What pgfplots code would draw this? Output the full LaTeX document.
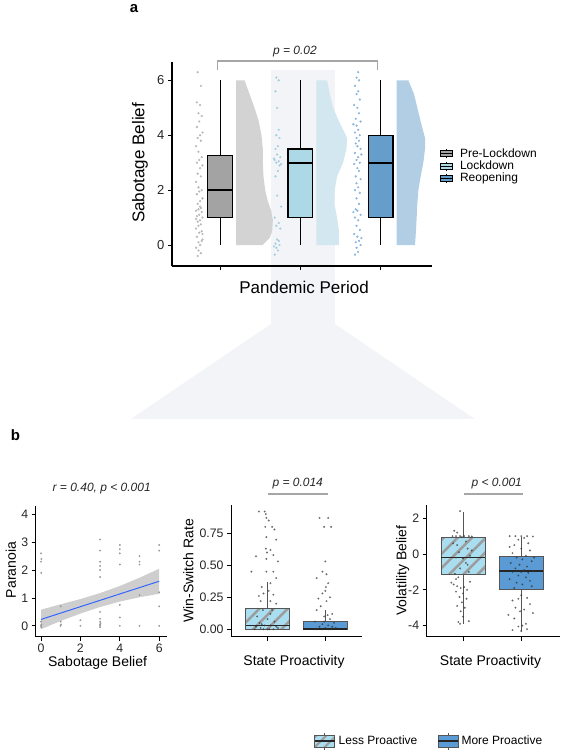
\documentclass[border=0pt]{standalone}
\usepackage{pgfplots}
\pgfplotsset{compat=1.18}
\usepgfplotslibrary{statistics}
\usetikzlibrary{patterns.meta}
\usepackage{fontspec}
\setmainfont{Liberation Sans}
\definecolor{bgshade}{HTML}{F3F4F7}
\definecolor{boxgray}{HTML}{A3A3A3}
\definecolor{boxlblue}{HTML}{ADD8E6}
\definecolor{boxblue}{HTML}{659DCB}
\definecolor{dengray}{HTML}{D3D3D3}
\definecolor{denlblue}{HTML}{D2E7EF}
\definecolor{denblue}{HTML}{B1CEE5}
\definecolor{ptgray}{HTML}{B8B8B8}
\definecolor{ptlblue}{HTML}{A6CFE0}
\definecolor{ptblue}{HTML}{8CB5DA}
\definecolor{lessp}{HTML}{A9DDF0}
\definecolor{morep}{HTML}{5B9BD5}
\definecolor{stripe}{HTML}{9C9C9C}
\definecolor{ggblue}{HTML}{3366FF}
\definecolor{bracket}{HTML}{A6A6A6}
\definecolor{tickc}{HTML}{262626}
\definecolor{bandc}{HTML}{C6C6C6}
\definecolor{outl}{HTML}{555555}

\newcommand\fs[1]{\fontsize{#1}{#1}\selectfont}

\pgfplotsset{
  common/.style={
    scale only axis,
    axis lines=left,
    axis line style={-, line width=1pt, black},
    tick align=outside,
    major tick length=4pt,
    tick style={line width=0.8pt, black},
    /pgf/number format/assume math mode=true,
    ticklabel style={font=\fs{12.3}, text=tickc},
    label style={font=\fs{14}},
    clip=false,
    boxplot/draw direction=y,
  },
  pts/.style={forget plot, only marks, mark=*, mark size=0.9pt, color=#1},
}

\begin{document}
\begin{tikzpicture}[x=1pt,y=1pt]
\useasboundingbox (0,0) rectangle (564,755);
% background highlight of the Lockdown period and zoom trapezoid
\fill[bgshade] (271,685) rectangle (335,431);
\fill[bgshade] (271,431) -- (335,431) -- (474.7,336) -- (130.7,336) -- cycle;

% ---------------- panel a ----------------
\begin{axis}[common, at={(172pt,489pt)}, anchor=south west, width=260pt, height=204pt,
  xmin=0.40, xmax=3.64, ymin=-0.765, ymax=6.67,
  xtick={1,2,3}, xticklabels={,,}, ytick={0,2,4,6},
  ticklabel style={font=\fs{13}},
  axis line style={line width=1.3pt},
  xlabel={Pandemic Period}, ylabel={Sabotage Belief},
  label style={font=\fs{17}},
  xlabel style={at={(axis description cs:0.508,-0.103)}, anchor=center},
  ylabel style={at={(axis description cs:-0.123,0.505)}, anchor=center},
  legend cell align=left,
  legend style={at={(axis description cs:1.03,0.49)}, anchor=west, draw=none, fill=none,
    font=\fs{12}, row sep=-2pt, inner sep=0pt, /tikz/every odd column/.append style={column sep=5pt}},
]
\addlegendimage{legend image code/.code={
  \draw[line width=0.8pt] (6pt,-4.5pt)--(6pt,4.5pt);
  \filldraw[fill=boxgray, draw=black, line width=0.8pt] (0pt,-3pt) rectangle (12pt,3pt);
  \draw[line width=1pt] (0pt,0pt)--(12pt,0pt);}}
\addlegendentry{Pre-Lockdown}
\addlegendimage{legend image code/.code={
  \draw[line width=0.8pt] (6pt,-4.5pt)--(6pt,4.5pt);
  \filldraw[fill=boxlblue, draw=black, line width=0.8pt] (0pt,-3pt) rectangle (12pt,3pt);
  \draw[line width=1pt] (0pt,0pt)--(12pt,0pt);}}
\addlegendentry{Lockdown}
\addlegendimage{legend image code/.code={
  \draw[line width=0.8pt] (6pt,-4.5pt)--(6pt,4.5pt);
  \filldraw[fill=boxblue, draw=black, line width=0.8pt] (0pt,-3pt) rectangle (12pt,3pt);
  \draw[line width=1pt] (0pt,0pt)--(12pt,0pt);}}
\addlegendentry{Reopening}

% jittered raw points
\addplot[pts=ptgray] coordinates {(0.72,-0.4)(0.76,-0.3)(0.70,-0.1)(0.75,0.0)(0.73,0.1)(0.78,0.2)(0.71,0.3)(0.74,0.45)(0.77,0.5)(0.70,0.6)(0.73,0.7)(0.76,0.75)(0.72,0.85)(0.75,0.9)(0.78,1.0)(0.71,1.05)(0.74,1.1)(0.77,1.2)(0.70,1.25)(0.73,1.3)(0.76,1.35)(0.72,1.5)(0.75,1.6)(0.78,1.7)(0.71,1.85)(0.74,1.95)(0.77,2.0)(0.73,2.1)(0.70,2.3)(0.76,2.5)(0.72,2.6)(0.75,2.8)(0.78,2.9)(0.71,3.0)(0.74,3.1)(0.77,3.2)(0.73,3.4)(0.70,3.6)(0.76,3.8)(0.72,3.9)(0.75,4.0)(0.78,4.1)(0.71,4.3)(0.74,4.5)(0.77,4.7)(0.73,4.8)(0.75,5.1)(0.71,5.2)(0.76,5.8)(0.72,6.3)(0.78,0.4)(0.70,0.95)(0.77,0.15)(0.73,-0.2)(0.75,1.4)};
\addplot[pts=ptlblue] coordinates {(1.68,-0.35)(1.72,-0.2)(1.70,-0.1)(1.74,0.0)(1.69,0.05)(1.73,0.15)(1.71,0.2)(1.67,-0.05)(1.75,0.6)(1.70,0.7)(1.73,0.8)(1.68,1.0)(1.76,1.4)(1.71,1.8)(1.69,2.5)(1.72,2.7)(1.74,2.9)(1.70,3.0)(1.73,3.05)(1.68,3.1)(1.75,3.2)(1.71,3.3)(1.69,3.5)(1.72,3.6)(1.74,3.9)(1.70,4.0)(1.73,4.2)(1.71,5.0)(1.69,5.6)(1.73,6.0)(1.70,6.1)(1.76,2.95)(1.67,3.15)};
\addplot[pts=ptblue] coordinates {(2.68,-0.35)(2.72,-0.25)(2.70,-0.1)(2.75,0.0)(2.69,0.1)(2.73,0.15)(2.71,0.3)(2.67,0.4)(2.74,0.55)(2.70,0.7)(2.72,0.9)(2.68,1.0)(2.75,1.1)(2.71,1.25)(2.69,1.3)(2.73,1.5)(2.70,1.7)(2.74,1.9)(2.68,2.0)(2.72,2.1)(2.70,2.25)(2.75,2.4)(2.69,2.5)(2.73,2.7)(2.71,2.8)(2.67,2.95)(2.74,3.0)(2.70,3.1)(2.72,3.2)(2.68,3.35)(2.75,3.5)(2.71,3.6)(2.69,3.7)(2.73,3.8)(2.70,3.9)(2.74,4.0)(2.68,4.1)(2.72,4.2)(2.70,4.35)(2.75,4.5)(2.69,4.6)(2.73,4.8)(2.71,5.0)(2.67,5.1)(2.74,5.3)(2.70,5.5)(2.72,5.6)(2.68,5.8)(2.73,6.0)(2.70,6.1)(2.72,6.3)(2.76,0.25)(2.66,1.2)(2.76,3.3)(2.66,4.4)};

% half densities
\addplot[forget plot, fill=dengray, draw=none] coordinates {(1.2,0)(1.53,0)(1.615,0.25)(1.648,0.5)(1.657,0.9)(1.636,1.25)(1.594,1.6)(1.561,2)(1.54,2.5)(1.532,3)(1.532,3.5)(1.515,4)(1.482,4.5)(1.428,5)(1.366,5.5)(1.304,6)(1.2,6)} -- cycle;
\addplot[forget plot, fill=denlblue, draw=none] coordinates {(2.2,0)(2.478,0)(2.482,0.5)(2.457,1)(2.424,1.5)(2.428,2)(2.457,2.5)(2.532,3)(2.574,3.5)(2.582,3.9)(2.482,4.5)(2.408,5)(2.366,5.5)(2.333,6)(2.2,6)} -- cycle;
\addplot[forget plot, fill=denblue, draw=none] coordinates {(3.2,0)(3.428,0)(3.44,0.5)(3.449,1)(3.457,1.5)(3.47,2)(3.499,2.5)(3.532,3)(3.553,3.5)(3.553,3.9)(3.499,4.5)(3.457,5)(3.416,5.5)(3.345,6)(3.2,6)} -- cycle;

% boxplots
\addplot[forget plot, draw=black, line width=1.2pt,
  boxplot prepared={draw position=1, lower whisker=0, lower quartile=1, median=2, upper quartile=3.25, upper whisker=6, box extend=0.31, whisker extend=0},
  boxplot/every box/.style={fill=boxgray}, boxplot/every median/.style={line width=1.8pt}] coordinates {};
\addplot[forget plot, draw=black, line width=1.2pt,
  boxplot prepared={draw position=2, lower whisker=0, lower quartile=1, median=3, upper quartile=3.5, upper whisker=6, box extend=0.31, whisker extend=0},
  boxplot/every box/.style={fill=boxlblue}, boxplot/every median/.style={line width=1.8pt}] coordinates {};
\addplot[forget plot, draw=black, line width=1.2pt,
  boxplot prepared={draw position=3, lower whisker=0, lower quartile=1, median=3, upper quartile=4, upper whisker=6, box extend=0.31, whisker extend=0},
  boxplot/every box/.style={fill=boxblue}, boxplot/every median/.style={line width=1.8pt}] coordinates {};
\end{axis}

% ---------------- panel b: scatter ----------------
\begin{axis}[common, at={(35.7pt,118.3pt)}, anchor=south west, width=131pt, height=131pt,
  xmin=-0.27, xmax=6.38, ymin=-0.39, ymax=4.31,
  xtick={0,2,4,6}, ytick={0,1,2,3,4},
  xlabel={Sabotage Belief}, ylabel={Paranoia},
  xlabel style={at={(axis description cs:0.472,-0.198)}, anchor=center},
  ylabel style={at={(axis description cs:-0.19,0.509)}, anchor=center},
]
\addplot[pts=gray!80, mark size=0.7pt] coordinates {(0,2.6)(0.02,2.4)(0,2.3)(0.01,1.9)(0,0.15)(0.02,0.05)(0,0)(0.01,-0.05)(1,0.7)(1,0.15)(1.02,0.05)(0.99,0.0)(2,0.2)(2,0.0)(3,3.1)(3,2.7)(3,2.3)(3,2.15)(3,2.0)(3,1.75)(3,0.5)(3,0.25)(3,0.15)(3,0.05)(3,0.0)(3,-0.05)(3.02,0.1)(4,2.9)(4,2.75)(4,2.6)(4,2.2)(4,0.75)(4,0.3)(4,0.0)(5,2.5)(5,2.3)(5,2.2)(5,1.1)(5,0.0)(6,2.9)(6,2.7)(6,1.2)(6,0.7)(6,0.0)};
\addplot[forget plot, fill=bandc, fill opacity=0.85, draw=none] coordinates {(0,0.58)(1,0.775)(2,0.96)(3,1.175)(4,1.43)(5,1.725)(6,2.05)(6,1.15)(5,1.025)(4,0.87)(3,0.675)(2,0.44)(1,0.175)(0,-0.12)} -- cycle;
\addplot[forget plot, ggblue, line width=1pt] coordinates {(0,0.23)(6,1.6)};
\end{axis}

% ---------------- panel b: win-switch ----------------
\begin{axis}[common, at={(231pt,118.3pt)}, anchor=south west, width=130.7pt, height=131.7pt,
  xmin=0.367, xmax=2.63, ymin=-0.058, ymax=0.971,
  xtick={1,2}, xticklabels={,}, ytick={0,0.25,0.5,0.75}, yticklabels={0.00,0.25,0.50,0.75},
  xlabel={State Proactivity}, ylabel={Win-Switch Rate},
  xlabel style={at={(axis description cs:0.482,-0.19)}, anchor=center},
  ylabel style={at={(axis description cs:-0.327,0.5)}, anchor=center},
]
\addplot[forget plot, draw=outl, line width=0.9pt,
  boxplot prepared={draw position=1, lower whisker=0, lower quartile=0, median=0.03, upper quartile=0.16, upper whisker=0.37, box extend=0.76, whisker extend=0},
  boxplot/every box/.style={fill=lessp, postaction={pattern={Lines[angle=45,distance=10pt,line width=2.5pt]}, pattern color=stripe}},
  boxplot/every median/.style={draw=black!85, line width=1.4pt}] coordinates {};
\addplot[forget plot, draw=outl, line width=0.9pt,
  boxplot prepared={draw position=2, lower whisker=0, lower quartile=0, median=0.002, upper quartile=0.06, upper whisker=0.15, box extend=0.76, whisker extend=0},
  boxplot/every box/.style={fill=morep},
  boxplot/every median/.style={draw=black!85, line width=1.4pt}] coordinates {};
\addplot[pts=black!80, mark size=0.8pt, opacity=0.55] coordinates {(0.85,0.92)(0.95,0.92)(0.97,0.90)(0.98,0.87)(1.02,0.85)(0.96,0.80)(1.08,0.80)(1.12,0.78)(0.98,0.72)(1.15,0.70)(0.97,0.63)(1.05,0.62)(0.99,0.60)(1.1,0.58)(0.8,0.57)(0.98,0.55)(1.18,0.53)(0.72,0.45)(0.98,0.45)(1.1,0.45)(1.15,0.40)(1.05,0.36)(0.9,0.33)(1.02,0.30)(0.93,0.28)(0.85,0.26)(1.1,0.27)(0.88,0.22)(1.05,0.22)(1.15,0.20)(0.92,0.15)(1.05,0.12)(0.82,0.10)(1.0,0.08)(1.12,0.06)(0.9,0.04)(0.95,0.03)(1.05,0.03)(0.8,0.02)(0.88,0.01)(1.0,0.0)(1.1,0.0)(1.18,0.01)(0.78,0.0)(0.93,0.0)(1.03,0.0)(1.15,0.02)(0.86,0.05)(1.08,0.15)
(1.9,0.87)(2.05,0.87)(1.98,0.80)(2.1,0.80)(2.0,0.53)(1.95,0.45)(2.02,0.43)(1.85,0.40)(2.05,0.36)(2.01,0.33)(2.0,0.30)(1.95,0.28)(2.08,0.25)(1.88,0.24)(2.02,0.22)(1.92,0.18)(1.85,0.15)(2.12,0.12)(1.98,0.10)(2.08,0.08)(1.82,0.06)(2.15,0.05)(1.95,0.04)(2.05,0.03)(1.9,0.02)(2.0,0.01)(2.1,0.0)(1.85,0.0)(1.95,0.0)(2.05,0.0)(2.18,0.01)(1.8,0.0)(2.12,0.02)(1.98,0.06)(2.04,0.11)};
\end{axis}

% ---------------- panel b: volatility ----------------
\begin{axis}[common, at={(426.7pt,118.3pt)}, anchor=south west, width=133pt, height=131.7pt,
  xmin=0.377, xmax=2.66, ymin=-4.62, ymax=2.74,
  xtick={1,2}, xticklabels={,}, ytick={-4,-2,0,2},
  xlabel={State Proactivity}, ylabel={Volatility Belief},
  xlabel style={at={(axis description cs:0.48,-0.19)}, anchor=center},
  ylabel style={at={(axis description cs:-0.18,0.5)}, anchor=center},
  legend columns=2,
  legend style={at={(axis description cs:0.017,-0.792)}, anchor=center, draw=none, fill=none,
    font=\fs{12}, inner sep=0pt, /tikz/every even column/.append style={column sep=18pt},
    /tikz/every odd column/.append style={column sep=1pt}},
]
\addlegendimage{legend image code/.code={
  \draw[line width=0.8pt, draw=outl] (10pt,-8.5pt)--(10pt,8.5pt);
  \fill[lessp] (0pt,-6pt) rectangle (20pt,6pt);
  \fill[pattern={Lines[angle=45,distance=7pt,line width=2pt]}, pattern color=stripe] (0pt,-6pt) rectangle (20pt,6pt);
  \draw[outl, line width=0.8pt] (0pt,-6pt) rectangle (20pt,6pt);
  \draw[black!85, line width=1.2pt] (0pt,0pt)--(20pt,0pt);}}
\addlegendentry{Less Proactive}
\addlegendimage{legend image code/.code={
  \draw[line width=0.8pt, draw=outl] (10pt,-8.5pt)--(10pt,8.5pt);
  \filldraw[fill=morep, draw=outl, line width=0.8pt] (0pt,-6pt) rectangle (20pt,6pt);
  \draw[black!85, line width=1.2pt] (0pt,0pt)--(20pt,0pt);}}
\addlegendentry{More Proactive}
\addplot[forget plot, draw=outl, line width=0.9pt,
  boxplot prepared={draw position=1, lower whisker=-3.93, lower quartile=-1.12, median=-0.18, upper quartile=0.91, upper whisker=2.36, box extend=0.755, whisker extend=0},
  boxplot/every box/.style={fill=lessp, postaction={pattern={Lines[angle=45,distance=10pt,line width=2.5pt]}, pattern color=stripe}},
  boxplot/every median/.style={draw=black!85, line width=1.4pt}] coordinates {};
\addplot[forget plot, draw=outl, line width=0.9pt,
  boxplot prepared={draw position=2, lower whisker=-4.28, lower quartile=-1.96, median=-0.95, upper quartile=-0.15, upper whisker=0.97, box extend=0.755, whisker extend=0},
  boxplot/every box/.style={fill=morep},
  boxplot/every median/.style={draw=black!85, line width=1.4pt}] coordinates {};
\addplot[pts=black!80, mark size=0.8pt, opacity=0.55] coordinates {(0.95,2.4)(0.85,1.3)(0.9,1.2)(0.82,1.0)(0.88,1.0)(0.95,1.0)(1.02,1.0)(1.1,1.0)(1.15,0.98)(0.98,0.95)(1.05,0.7)(0.9,0.5)(1.08,0.3)(0.93,0.1)(1.12,-0.1)(0.88,-0.2)(1.0,-0.25)(1.05,-0.5)(0.95,-0.8)(1.1,-1.0)(0.86,-1.1)(0.92,-1.3)(0.8,-1.6)(0.84,-1.7)(0.9,-1.8)(0.96,-1.9)(1.02,-1.85)(1.07,-2.0)(0.88,-2.1)(1.0,-2.2)(0.94,-2.4)(1.06,-2.5)(0.98,-2.7)(0.9,-2.9)(1.03,-3.0)(0.96,-3.2)(1.0,-3.5)(0.92,-3.8)(1.1,-3.75)(0.95,-3.9)(0.88,-1.4)(1.12,-1.55)(1.08,-0.6)(0.83,0.6)(1.15,0.2)
(1.8,1.0)(1.9,1.0)(2.0,1.0)(2.1,1.0)(2.2,0.98)(2.05,0.9)(1.95,0.8)(2.12,0.6)(1.88,0.5)(2.0,0.3)(2.15,0.2)(1.85,0.05)(2.08,-0.1)(1.92,-0.2)(2.02,-0.3)(2.18,-0.4)(1.82,-0.5)(1.97,-0.6)(2.1,-0.7)(1.9,-0.8)(2.05,-0.9)(2.2,-0.95)(1.85,-1.0)(2.0,-1.0)(2.12,-1.05)(1.95,-1.2)(2.08,-1.3)(1.8,-1.4)(2.15,-1.5)(1.92,-1.6)(2.02,-1.7)(2.18,-1.8)(1.88,-1.9)(2.0,-2.3)(1.85,-2.6)(1.95,-2.5)(2.1,-2.45)(2.15,-2.8)(1.9,-3.0)(2.05,-3.1)(1.98,-3.2)(2.2,-3.3)(1.88,-3.6)(2.02,-4.0)(1.95,-4.05)(2.1,-4.2)(2.0,-4.3)(1.85,-4.25)(2.08,-3.9)(1.78,-3.4)(2.22,-0.2)(1.8,0.4)};
\end{axis}

% ---------------- annotations ----------------
\node[font=\bfseries\fs{15}] at (134,746) {a};
\node[font=\bfseries\fs{15}] at (15.5,320) {b};
\draw[bracket, line width=1.3pt] (217.7,685)--(217.7,694)--(377.3,694)--(377.3,685);
\node[font=\itshape\fs{12}, text=tickc] at (295,703) {p = 0.02};
\node[font=\itshape\fs{12}, text=tickc] at (101.7,266) {r = 0.40, p < 0.001};
\draw[bracket, line width=2pt] (267.7,261.3)--(327.7,261.3);
\node[font=\itshape\fs{12}, text=tickc] at (297.7,271) {p = 0.014};
\draw[bracket, line width=2pt] (464.3,261.3)--(523.3,261.3);
\node[font=\itshape\fs{12}, text=tickc] at (496.7,271) {p < 0.001};
\end{tikzpicture}
\end{document}
